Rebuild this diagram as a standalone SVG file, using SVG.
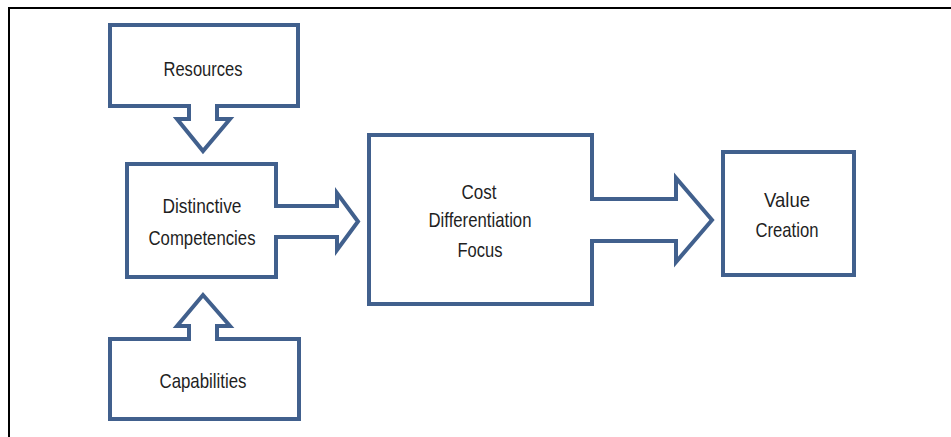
<svg xmlns="http://www.w3.org/2000/svg" width="951" height="437" viewBox="0 0 951 437">
  <style>
    .box { fill: #ffffff; stroke: #41608d; stroke-width: 4; stroke-linejoin: miter; }
    .afill { fill: #ffffff; stroke: none; }
    .aline { fill: none; stroke: #41608d; stroke-width: 4; stroke-linejoin: miter; stroke-linecap: butt; }
    .lbl { font-family: "Liberation Sans", Arial, sans-serif; font-size: 21px; fill: #1f1f1f; text-anchor: middle; }
    .frame { fill: none; stroke: #000000; stroke-width: 2; }
  </style>
  <rect x="0" y="0" width="951" height="437" fill="#ffffff"/>
  <path class="frame" d="M9,437 V8 H951"/>

  <g id="node-resources">
    <rect class="box" x="110" y="25" width="188" height="81"/>
    <text class="lbl" x="203" y="76" textLength="79" lengthAdjust="spacingAndGlyphs">Resources</text>
  </g>
  <g id="node-distinctive">
    <rect class="box" x="127" y="164" width="149" height="113"/>
    <text class="lbl" x="202" y="213" textLength="79" lengthAdjust="spacingAndGlyphs">Distinctive</text>
    <text class="lbl" x="202" y="245" textLength="107" lengthAdjust="spacingAndGlyphs">Competencies</text>
  </g>
  <g id="node-capabilities">
    <rect class="box" x="110" y="339" width="189" height="80"/>
    <text class="lbl" x="203" y="388" textLength="87" lengthAdjust="spacingAndGlyphs">Capabilities</text>
  </g>
  <g id="node-strategy">
    <rect class="box" x="369" y="135" width="223" height="169"/>
    <text class="lbl" x="479" y="199" textLength="35" lengthAdjust="spacingAndGlyphs">Cost</text>
    <text class="lbl" x="480" y="227" textLength="103" lengthAdjust="spacingAndGlyphs">Differentiation</text>
    <text class="lbl" x="480" y="257" textLength="45" lengthAdjust="spacingAndGlyphs">Focus</text>
  </g>
  <g id="node-value">
    <rect class="box" x="723" y="152" width="131" height="123"/>
    <text class="lbl" x="787" y="207" textLength="46" lengthAdjust="spacingAndGlyphs">Value</text>
    <text class="lbl" x="787" y="237" textLength="63" lengthAdjust="spacingAndGlyphs">Creation</text>
  </g>

  <g id="connectors">
    <g id="conn-resources-distinctive">
      <path class="afill" d="M189,102 V119 H177 L203,151 L230,119 H217 V102 Z"/>
      <path class="aline" d="M189,104 V119 H177 L203,151 L230,119 H217 V104"/>
    </g>
    <g id="conn-capabilities-distinctive">
      <path class="afill" d="M189,343 V326 H177 L203,295 L230,326 H217 V343 Z"/>
      <path class="aline" d="M189,341 V326 H177 L203,295 L230,326 H217 V341"/>
    </g>
    <g id="conn-distinctive-strategy">
      <path class="afill" d="M272,206 H337 V193 L358,221.5 L337,250 V237 H272 Z"/>
      <path class="aline" d="M274,206 H337 V193 L358,221.5 L337,250 V237 H274"/>
    </g>
    <g id="conn-strategy-value">
      <path class="afill" d="M588,199 H676 V178 L712,220 L676,262 V241 H588 Z"/>
      <path class="aline" d="M590,199 H676 V178 L712,220 L676,262 V241 H590"/>
    </g>
  </g>
</svg>
